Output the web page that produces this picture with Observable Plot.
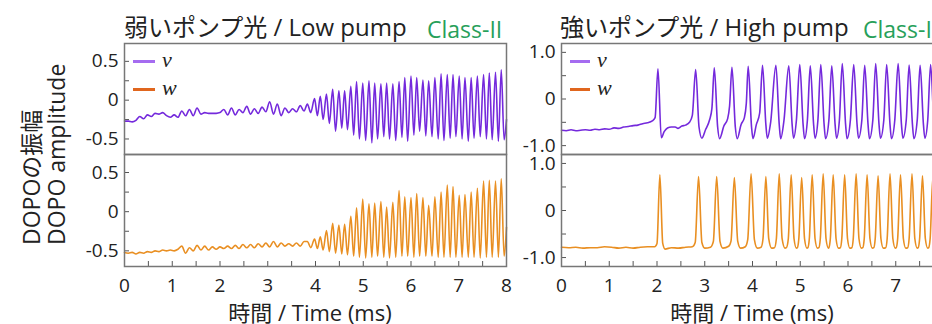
<!DOCTYPE html>
<html><head><meta charset="utf-8">
<script src="https://cdn.jsdelivr.net/npm/d3@7"></script>
<script src="https://cdn.jsdelivr.net/npm/@observablehq/plot@0.6"></script>
<style>
body{margin:0;overflow:hidden;background:#fff;font-family:"Open Sans","Noto Sans CJK JP",sans-serif;color:#222;}
#root{position:relative;width:932px;height:324px;overflow:hidden;}
.a{position:absolute;white-space:nowrap;}
.title{font-size:24px;line-height:30px;color:#222;}
.cls{font-size:23px;line-height:30px;color:#27a05a;}
.xl{font-size:22px;line-height:22px;text-align:center;color:#222;}
.leg{height:3px;}
.lt{font-family:"Liberation Serif","DejaVu Serif",serif;font-style:italic;font-size:22px;line-height:24px;color:#222;}
</style></head>
<body><div id="root"></div>
<script>
// ---- data: low pump (shared time samples, ms) ----
const tLow = [0,0.08,0.16,0.24,0.32,0.4,0.48,0.56,0.64,0.72,0.8,0.88,0.96,1.04,1.12,1.2,1.28,1.36,1.44,1.52,1.6,1.68,1.76,1.84,1.92,2,2.08,2.16,2.24,2.32,2.4,2.48,2.56,2.64,2.72,2.8,2.88,2.96,3.04,3.12,3.2,3.28,3.36,3.44,3.52,3.6,3.68,3.76,
3.83,3.9,3.98,4.04,4.1,4.16,4.23,4.29,4.36,4.42,4.49,4.55,4.61,4.67,4.74,4.8,4.86,4.92,4.99,5.05,5.12,5.18,5.24,5.3,5.37,5.43,5.49,5.55,5.62,5.68,5.75,5.81,5.87,5.93,6,6.06,6.12,6.18,6.25,6.31,6.37,6.44,6.5,6.57,6.63,6.69,6.76,6.82,6.88,6.94,7.01,7.07,7.13,7.2,7.26,7.32,7.39,7.45,7.52,7.58,7.64,7.7,7.77,7.83,7.89,7.95,8];
const vLow = [-0.27,-0.27,-0.28,-0.26,-0.21,-0.24,-0.19,-0.21,-0.17,-0.18,-0.16,-0.2,-0.22,-0.19,-0.22,-0.14,-0.2,-0.12,-0.2,-0.1,-0.18,-0.16,-0.17,-0.17,-0.17,-0.16,-0.12,-0.19,-0.1,-0.19,-0.12,-0.16,-0.08,-0.18,-0.11,-0.17,-0.09,-0.15,-0.02,-0.18,-0.05,-0.2,-0.1,-0.16,-0.11,-0.15,-0.07,-0.14,
-0.05,-0.16,0.02,-0.2,0.05,-0.25,0.08,-0.3,0.14,-0.4,0.12,-0.36,0.12,-0.38,0.18,-0.45,0.24,-0.5,0.22,-0.52,0.25,-0.55,0.22,-0.5,0.21,-0.47,0.22,-0.5,0.21,-0.52,0.24,-0.48,0.29,-0.53,0.31,-0.45,0.29,-0.4,0.26,-0.46,0.25,-0.47,0.29,-0.5,0.34,-0.52,0.33,-0.49,0.33,-0.47,0.31,-0.5,0.29,-0.53,0.29,-0.49,0.31,-0.47,0.33,-0.5,0.35,-0.51,0.36,-0.53,0.39,-0.51,-0.25];
const wLow = [-0.52,-0.53,-0.52,-0.54,-0.52,-0.53,-0.51,-0.52,-0.5,-0.51,-0.49,-0.5,-0.49,-0.5,-0.48,-0.44,-0.53,-0.46,-0.5,-0.43,-0.49,-0.44,-0.49,-0.45,-0.48,-0.45,-0.47,-0.44,-0.47,-0.43,-0.47,-0.42,-0.46,-0.42,-0.46,-0.41,-0.45,-0.4,-0.45,-0.38,-0.45,-0.4,-0.44,-0.41,-0.44,-0.4,-0.44,-0.38,
-0.38,-0.46,-0.35,-0.47,-0.32,-0.49,-0.24,-0.51,-0.15,-0.53,-0.17,-0.54,-0.16,-0.55,-0.06,-0.57,0.05,-0.58,0.16,-0.59,0.1,-0.58,0.11,-0.57,0.13,-0.58,0.06,-0.59,0.12,-0.58,0.27,-0.57,0.19,-0.57,0.18,-0.58,0.23,-0.57,0.18,-0.57,0.08,-0.57,0.19,-0.58,0.25,-0.58,0.34,-0.58,0.32,-0.58,0.21,-0.58,0.22,-0.58,0.25,-0.58,0.3,-0.59,0.39,-0.58,0.4,-0.58,0.39,-0.58,0.42,-0.57,-0.2];

// ---- data: high pump ----
const tHighV = [0,0.1,0.2,0.3,0.4,0.5,0.6,0.7,0.8,0.9,1.0,1.1,1.2,1.3,1.4,1.5,1.6,1.7,1.8,1.9,1.96,2.02,2.09,2.15,2.22,2.3,2.38,2.44,2.52,2.6,2.68,2.74,2.81,2.88,2.94,3.02,3.1,3.15,3.2,3.27,3.31,3.4,3.48,3.52,3.57,3.64,3.68,3.76,3.83,3.87,3.91,3.98,4.01,4.08,4.15,4.21,4.28,4.31,4.38,4.49,4.56,4.59,4.66,4.76,4.83,4.86,4.92,4.99,5.06,5.09,5.15,5.21,5.28,5.31,5.37,5.43,5.5,5.53,5.6,5.66,5.73,5.76,5.82,5.88,5.95,5.98,6.05,6.12,6.19,6.22,6.29,6.35,6.42,6.45,6.52,6.58,6.65,6.68,6.75,6.81,6.88,6.91,6.98,7.05,7.12,7.15,7.22,7.28,7.35,7.38,7.45,7.51,7.58,7.61,7.67,7.73,7.8,7.83,7.89,7.95,8.0];
const vHigh = [-0.67,-0.68,-0.66,-0.68,-0.67,-0.66,-0.67,-0.65,-0.66,-0.64,-0.65,-0.62,-0.63,-0.6,-0.59,-0.57,-0.56,-0.53,-0.51,-0.47,-0.4,0.65,-0.83,-0.7,-0.62,-0.6,-0.6,-0.63,-0.58,-0.56,-0.5,-0.35,0.63,-0.6,-0.84,-0.65,-0.45,-0.2,0.67,-0.6,-0.85,-0.58,-0.42,-0.15,0.68,-0.6,-0.85,-0.55,-0.4,-0.1,0.7,-0.6,-0.85,-0.55,-0.3,0.72,-0.55,-0.84,-0.5,0.72,-0.55,-0.85,-0.45,0.71,-0.55,-0.84,-0.45,0.74,-0.55,-0.85,-0.45,0.71,-0.55,-0.84,-0.45,0.74,-0.55,-0.85,-0.45,0.71,-0.55,-0.84,-0.45,0.76,-0.55,-0.85,-0.45,0.74,-0.55,-0.84,-0.45,0.72,-0.55,-0.85,-0.45,0.76,-0.55,-0.84,-0.45,0.74,-0.55,-0.85,-0.45,0.76,-0.55,-0.84,-0.45,0.73,-0.55,-0.85,-0.45,0.72,-0.55,-0.84,-0.45,0.74,-0.55,-0.85,-0.45,0.72,-0.3];
const tHighW = [0,0.15,0.3,0.45,0.6,0.75,0.9,1.05,1.2,1.35,1.5,1.65,1.8,1.95,2.0,2.06,2.12,2.17,2.3,2.45,2.6,2.74,2.8,2.87,2.94,3.0,3.12,3.18,3.25,3.32,3.38,3.5,3.55,3.62,3.69,3.75,3.85,3.9,3.97,4.04,4.1,4.18,4.22,4.28,4.34,4.4,4.46,4.5,4.56,4.62,4.68,4.71,4.75,4.81,4.87,4.92,4.94,4.97,5.03,5.09,5.14,5.16,5.19,5.25,5.31,5.36,5.39,5.42,5.48,5.54,5.59,5.6,5.63,5.69,5.75,5.8,5.84,5.87,5.93,5.99,6.04,6.08,6.11,6.17,6.23,6.28,6.31,6.34,6.4,6.46,6.51,6.54,6.57,6.63,6.69,6.74,6.79,6.82,6.88,6.94,6.99,7.01,7.04,7.1,7.16,7.21,7.25,7.28,7.34,7.4,7.45,7.47,7.5,7.56,7.62,7.67,7.69,7.72,7.78,7.84,7.89,7.91,7.94,8.0];
const wHigh = [-0.78,-0.79,-0.78,-0.8,-0.79,-0.79,-0.77,-0.78,-0.8,-0.78,-0.8,-0.78,-0.77,-0.77,-0.7,0.76,-0.7,-0.82,-0.79,-0.8,-0.78,-0.77,-0.68,0.72,-0.68,-0.8,-0.78,-0.66,0.72,-0.66,-0.8,-0.76,-0.65,0.7,-0.65,-0.8,-0.77,-0.62,0.78,-0.62,-0.8,-0.78,-0.6,0.72,-0.6,-0.8,-0.79,-0.6,0.78,-0.6,-0.8,-0.79,-0.6,0.76,-0.6,-0.8,-0.79,-0.6,0.7,-0.6,-0.8,-0.79,-0.6,0.76,-0.6,-0.8,-0.79,-0.6,0.78,-0.6,-0.8,-0.79,-0.6,0.76,-0.6,-0.8,-0.79,-0.6,0.76,-0.6,-0.8,-0.79,-0.6,0.78,-0.6,-0.8,-0.79,-0.6,0.76,-0.6,-0.8,-0.79,-0.6,0.74,-0.6,-0.8,-0.79,-0.6,0.78,-0.6,-0.8,-0.79,-0.6,0.76,-0.6,-0.8,-0.79,-0.6,0.78,-0.6,-0.8,-0.79,-0.6,0.74,-0.6,-0.8,-0.79,-0.6,0.74,-0.6,-0.8,-0.79,-0.6,0.7];

// ---- ticks ----
const xTicks = [0,1,2,3,4,5,6,7,8];
const xMinor = [0.5,1,1.5,2,2.5,3,3.5,4,4.5,5,5.5,6,6.5,7,7.5];
const yTicksLow = [-0.5,0,0.5];
const yMinorLow = [-0.5,-0.25,0,0.25,0.5];
const yTicksHigh = [-1,0,1];
const yMinorHigh = [-1,-0.5,0,0.5,1];

const purple = "#7429dc", orange = "#e98f22";
const FW = 382;

const rows = (t, y) => t.map((d, i) => ({t: d, y: y[i]})).filter(d => d.y !== undefined);

function sub({data, color, domain, yTicks, yMinor, fmt, showX, fh}) {
  const mL = 60, mR = 2, mT = 2, mB = showX ? 40 : 2;
  return Plot.plot({
    width: mL + FW + mR, height: mT + fh + mB,
    marginLeft: mL, marginRight: mR, marginTop: mT, marginBottom: mB,
    style: {background: "transparent", fontFamily: "'Open Sans','Noto Sans CJK JP',sans-serif", fontSize: "19px", color: "#222", overflow: "visible", maxWidth: "none"},
    x: {domain: [0, 8], label: null, axis: null},
    y: {domain, label: null, axis: null},
    marks: [
      Plot.axisY(yTicks, {tickSize: 0, tickPadding: 6, tickFormat: fmt, label: null}),
      showX ? Plot.axisX(xTicks, {tickSize: 0, tickPadding: 12, tickFormat: d => String(d), label: null}) : null,
      Plot.ruleY(yMinor, {insetRight: FW - 5, stroke: "#555", strokeWidth: 1}),
      showX ? Plot.ruleX(xMinor, {insetTop: fh - 5, stroke: "#555", strokeWidth: 1}) : null,
      Plot.line(data, {x: "t", y: "y", stroke: color, strokeWidth: 1.6, curve: "monotone-x"}),
      Plot.frame({stroke: "#777", strokeWidth: 1.5})
    ]
  });
}

const root = document.getElementById("root");
function place(el, left, top) {
  const d = document.createElement("div");
  d.className = "a"; d.style.left = left + "px"; d.style.top = top + "px";
  d.appendChild(el); root.appendChild(d); return d;
}
function html(cls, text, left, top, extra) {
  const d = document.createElement("div");
  d.className = "a " + cls; d.textContent = text;
  d.style.left = left + "px"; d.style.top = top + "px";
  if (extra) Object.assign(d.style, extra);
  root.appendChild(d); return d;
}

const fmtLow = d => d === 0 ? "0" : String(d);
const fmtHigh = d => d === 0 ? "0" : d.toFixed(1);
const domLow = [-0.7, 0.73];
const domHigh = [-1.19, 1.19];

place(sub({data: rows(tLow, vLow), color: purple, domain: domLow, yTicks: yTicksLow, yMinor: yMinorLow, fmt: fmtLow, showX: false, fh: 111}), 64, 41);
place(sub({data: rows(tLow, wLow), color: orange, domain: domLow, yTicks: yTicksLow, yMinor: yMinorLow, fmt: fmtLow, showX: true, fh: 112}), 64, 152);
place(sub({data: rows(tHighV, vHigh), color: purple, domain: domHigh, yTicks: yTicksHigh, yMinor: yMinorHigh, fmt: fmtHigh, showX: false, fh: 111}), 501, 41);
place(sub({data: rows(tHighW, wHigh), color: orange, domain: domHigh, yTicks: yTicksHigh, yMinor: yMinorHigh, fmt: fmtHigh, showX: true, fh: 112}), 501, 152);

// titles
html("title", "弱いポンプ光 / Low pump", 124, 12);
html("cls", "Class-II", 427, 14);
html("title", "強いポンプ光 / High pump", 560, 12);
html("cls", "Class-I", 863, 14);

// x axis titles
html("xl", "時間 / Time (ms)", 119, 301, {width: FW + "px"});
html("xl", "時間 / Time (ms)", 561, 301, {width: FW + "px"});

// y axis title (rotated)
const yt = document.createElement("div");
yt.className = "a";
yt.style.cssText += "left:19px;top:245px;transform-origin:0 0;transform:rotate(-90deg);font-size:23px;line-height:25px;color:#222;white-space:nowrap;";
yt.innerHTML = "<div>DOPOの振幅</div><div>DOPO amplitude</div>";
root.appendChild(yt);

// legends
function legend(x0, len, tx) {
  html("leg", "", x0, 60, {width: len + "px", background: "#a56cf0"});
  html("lt", "v", tx, 48);
  html("leg", "", x0, 88, {width: len + "px", background: "#e0661e"});
  html("lt", "w", tx, 76);
}
legend(133, 22, 162);
legend(570, 20, 597);
</script></body></html>
